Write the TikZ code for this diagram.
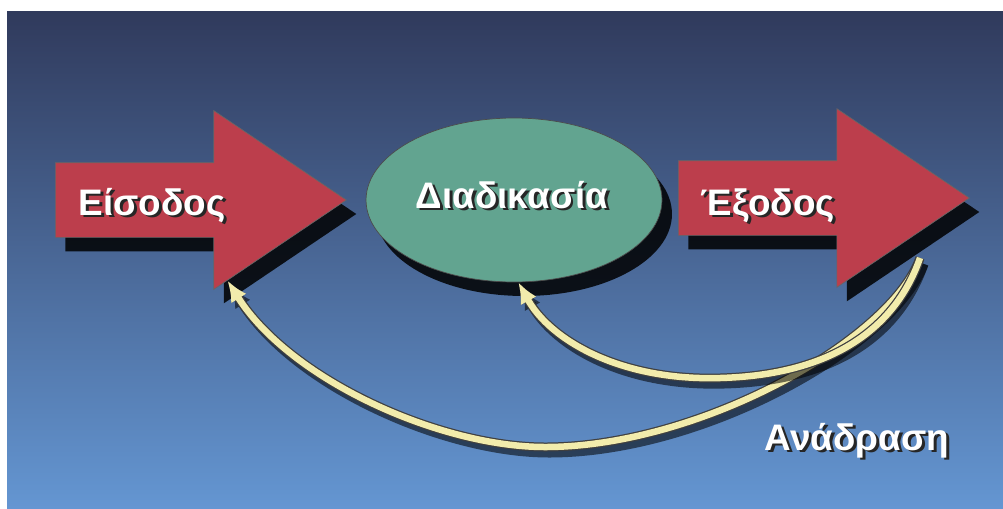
\documentclass[tikz,border=0pt]{standalone}
\usepackage{fontspec}
\setmainfont{Liberation Sans}
\usetikzlibrary{arrows.meta, positioning, shapes.geometric, shapes.arrows,
                shadows, calc}

\definecolor{bgtop}{RGB}{48,58,92}
\definecolor{bgmid}{RGB}{62,82,128}
\definecolor{bgbot}{RGB}{100,150,210}
\definecolor{arrowred}{RGB}{188,62,76}
\definecolor{procgreen}{RGB}{98,164,144}
\definecolor{cream}{RGB}{242,236,172}

% white text with a dark drop shadow
\newcommand{\shtext}[1]{\makebox[0pt][l]{\hspace{0.08em}\raisebox{-0.08em}{\color{black!85}#1}}#1}

\begin{document}
\begin{tikzpicture}[
    x=0.02cm, y=-0.02cm,
    darkshadow/.style={drop shadow={shadow xshift=0.2cm, shadow yshift=-0.28cm,
                       fill=black, opacity=0.85}},
    flowarrow/.style={single arrow, minimum height=5.82cm, minimum width=3.56cm,
                      single arrow head extend=1.04cm, single arrow tip angle=68,
                      inner xsep=0pt, inner ysep=0.74cm, fill=arrowred,
                      draw=black!60, darkshadow},
    procnode/.style={ellipse, minimum width=5.92cm, minimum height=3.28cm,
                     fill=procgreen, draw=black!70, darkshadow},
    lbl/.style={text=white, font=\fontsize{21}{25}\selectfont\bfseries},
    fbtube/.style={draw=cream, line width=0.13cm,
                   -{Latex[length=0.42cm, width=0.36cm]},
                   preaction={draw=black, opacity=0.55, line width=0.18cm,
                              transform canvas={xshift=0.08cm, yshift=-0.12cm}},
                   preaction={draw=black!75, line width=0.18cm}}
  ]
  % Background
  \useasboundingbox (0,0) rectangle (1003,508);
  \shade[top color=bgtop, middle color=bgmid, bottom color=bgbot]
    (7,11) rectangle (1003,508);

  % Input, process, output
  \node[flowarrow, anchor=tail] (input) at (55,200) {};
  \node[procnode] (proc) at (514,200) {};
  \node[flowarrow, anchor=tail] (output) at (678,198) {};

  \node[lbl, anchor=base] (inText) at (152,215) {\shtext{Είσοδος}};
  \node[lbl, anchor=base] (procText) at (512,208) {\shtext{Διαδικασία}};
  \node[lbl, anchor=base] (outText) at (768,215) {\shtext{Έξοδος}};

  % Feedback
  \coordinate (fbStart) at (920,258);
  \draw[fbtube] (fbStart) .. controls (890,340) and (700,447) .. (545,447)
    .. controls (440,447) and (290,380) .. (input.-56);
  \draw[fbtube] (fbStart) .. controls (895,330) and (830,375) .. (720,378)
    .. controls (620,381) and (550,340) .. (proc.-87);
  \node[lbl, anchor=base] (fbText) at (857,450) {\shtext{Ανάδραση}};
\end{tikzpicture}
\end{document}
